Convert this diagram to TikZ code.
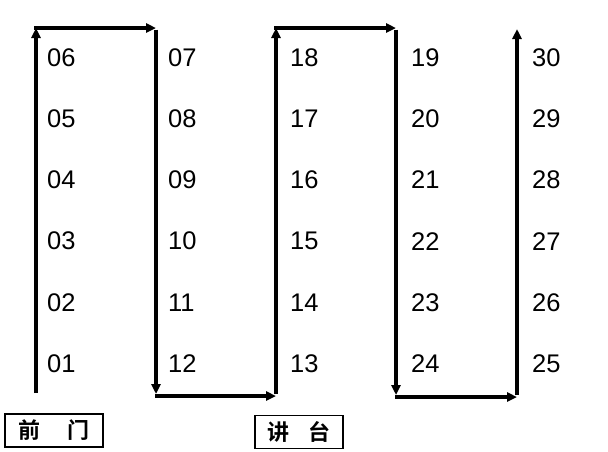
\documentclass[tikz,border=0pt]{standalone}
\usepackage{fontspec}
\setmainfont{Liberation Sans}
\newfontfamily\cjk{Noto Sans CJK SC}[BoldFont={Noto Sans CJK SC Bold}]
\usetikzlibrary{arrows.meta}
\begin{document}
\begin{tikzpicture}[x=1pt,y=-1pt,
  num/.style={anchor=west,inner sep=0pt,font=\fontsize{25.5}{25.5}\selectfont},
  arr/.style={line width=3.4pt,-{Triangle[length=10pt,width=9pt]}},
  lab/.style={draw,line width=1.8pt,minimum width=98pt,minimum height=33pt,inner sep=0pt,font=\cjk\bfseries\fontsize{22}{22}\selectfont}]
\useasboundingbox (0,0) rectangle (608,451);
% corners
\coordinate (b1) at (36,393);
\coordinate (t1) at (36,28);
\coordinate (t2) at (156,28);
\coordinate (b2) at (156,394);
\coordinate (c2) at (155,396);
\coordinate (b3) at (276,396);
\coordinate (t3) at (276,28);
\coordinate (t4) at (396,28);
\coordinate (b4) at (396,395);
\coordinate (c4) at (395,397);
\coordinate (b5) at (517,397);
\coordinate (t5) at (517,29);
\draw[arr] (b1) -- (t1);
\draw[arr] ([xshift=-1.7pt]t1) -- (t2);
\draw[arr] ([yshift=-1.7pt]t2) -- (b2);
\draw[arr] (c2) -- (b3);
\draw[arr] ([yshift=1.7pt]b3) -- (t3);
\draw[arr] ([xshift=-1.7pt]t3) -- (t4);
\draw[arr] ([yshift=-1.7pt]t4) -- (b4);
\draw[arr] (c4) -- (b5);
\draw[arr] ([yshift=1.7pt]b5) -- (t5);
% numbers
\foreach \i/\n in {0/06,1/05,2/04,3/03,4/02,5/01}
  \node[num] (n\n) at (47,{57.5+61.2*\i}) {\n};
\foreach \i/\n in {0/07,1/08,2/09,3/10,4/11,5/12}
  \node[num] (n\n) at (168,{57.5+61.2*\i}) {\n};
\foreach \i/\n in {0/18,1/17,2/16,3/15,4/14,5/13}
  \node[num] (n\n) at (290,{57.5+61.2*\i}) {\n};
\foreach \i/\n in {0/19,1/20,2/21,3/22,4/23,5/24}
  \node[num] (n\n) at (411,{57.5+61.2*\i}) {\n};
\foreach \i/\n in {0/30,1/29,2/28,3/27,4/26,5/25}
  \node[num] (n\n) at (532,{57.5+61.2*\i}) {\n};
% labels
\node[lab] (door) at (54,430.5) {前\hspace{1.2em}门};
\node[lab,minimum width=88pt] (stage) at (299,432) {讲\hspace{0.9em}台};
\end{tikzpicture}
\end{document}
